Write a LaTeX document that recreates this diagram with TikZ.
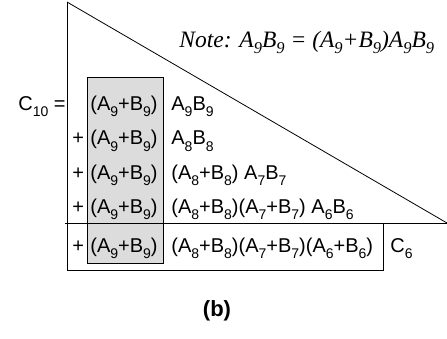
\documentclass[tikz,border=0pt]{standalone}
\usepackage{fontspec}
\setmainfont{Liberation Sans}
\newfontfamily\notefont{Liberation Serif}
\usetikzlibrary{positioning}
\definecolor{boxgray}{HTML}{DCDCDC}
\newcommand{\sbs}[1]{\raisebox{-6.5pt}{\fontsize{14}{14}\selectfont #1}}
\newcommand{\nsbs}[1]{\raisebox{-6pt}{\fontsize{16.5}{16.5}\selectfont #1}}

\begin{document}
\begin{tikzpicture}[x=1pt, y=-1pt, line width=0.8pt,
    txt/.style={anchor=base west, inner sep=0pt, font=\fontsize{20}{24}\selectfont}]
    \useasboundingbox (0,0) rectangle (447,338);
    \coordinate (apex) at (67,2);
    \coordinate (tip) at (447,223);
    \coordinate (lft) at (65,223);
    \coordinate (bl) at (67,270);
    \coordinate (br) at (383,270);
    \coordinate (tr) at (383,223);
    \node[draw, fill=boxgray, minimum width=76pt, minimum height=186pt, inner sep=0pt] (gbox) at (125,170) {};
    \draw (apex) -- (tip);
    \draw (lft) -- (tip);
    \draw (apex) -- (bl) -- (br) -- (tr);
    \node[anchor=base west, inner sep=0pt, font=\notefont\itshape\fontsize{23.5}{27}\selectfont] (note) at (179,47)
          {Note: A\nsbs{9}B\nsbs{9} = (A\nsbs{9}+B\nsbs{9})A\nsbs{9}B\nsbs{9}};
    \node[txt] (c10) at (18,110) {C\sbs{10} =};
    \node[txt] (s1) at (90,110) {(A\sbs{9}+B\sbs{9})};
    \node[txt] (t1) at (171,110) {A\sbs{9}B\sbs{9}};
    \node[txt] (p2) at (72,144.5) {+};
    \node[txt] (s2) at (90,144.5) {(A\sbs{9}+B\sbs{9})};
    \node[txt] (t2) at (171,144.5) {A\sbs{8}B\sbs{8}};
    \node[txt] (p3) at (72,179) {+};
    \node[txt] (s3) at (90,179) {(A\sbs{9}+B\sbs{9})};
    \node[txt] (t3) at (171,179) {(A\sbs{8}+B\sbs{8}) A\sbs{7}B\sbs{7}};
    \node[txt] (p4) at (72,213) {+};
    \node[txt] (s4) at (90,213) {(A\sbs{9}+B\sbs{9})};
    \node[txt] (t4) at (171,213) {(A\sbs{8}+B\sbs{8})(A\sbs{7}+B\sbs{7}) A\sbs{6}B\sbs{6}};
    \node[txt] (p5) at (72,252) {+};
    \node[txt] (s5) at (90,252) {(A\sbs{9}+B\sbs{9})};
    \node[txt] (t5) at (171,252) {(A\sbs{8}+B\sbs{8})(A\sbs{7}+B\sbs{7})(A\sbs{6}+B\sbs{6})};
    \node[txt] (c6) at (390,252) {C\sbs{6}};
    \node[inner sep=0pt, font=\bfseries\fontsize{22}{26}\selectfont] (lbl) at (217,311) {(b)};
\end{tikzpicture}
\end{document}
